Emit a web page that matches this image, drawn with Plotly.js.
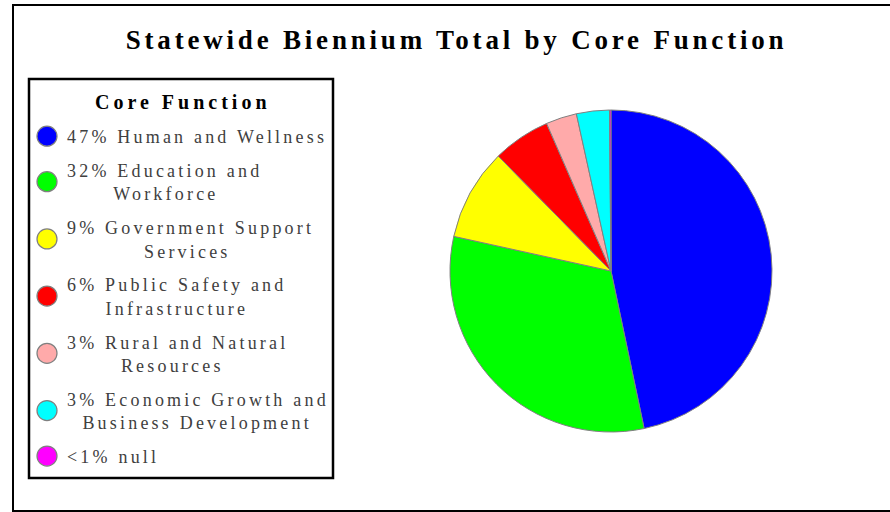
<!DOCTYPE html>
<html>
<head>
<meta charset="utf-8">
<script src="https://cdn.plot.ly/plotly-3.0.1.min.js"></script>
<style>
  html, body { margin: 0; padding: 0; background: #ffffff; }
  #chart { width: 890px; height: 512px; }
  .gtitle { letter-spacing: 3.8px; }
  .legendtext { letter-spacing: 3.2px; }
  .annotation-text { letter-spacing: 4px; }
  path.scatterpts { transform: translate(20px, 0px) scale(1.25); }
</style>
</head>
<body>
<div id="chart"></div>
<script>
const categories = [
  'Human and Wellness',
  'Education and Workforce',
  'Government Support Services',
  'Public Safety and Infrastructure',
  'Rural and Natural Resources',
  'Economic Growth and Business Development',
  'null'
];
const shares = [46.7, 31.75, 9.2, 5.8, 3.1, 3.3, 0.15];
const legendLabels = [
  '47% Human and Wellness',
  '32% Education and<br>\u00a0\u00a0\u00a0\u00a0\u00a0\u00a0Workforce',
  '9% Government Support<br>\u00a0\u00a0\u00a0\u00a0\u00a0\u00a0\u00a0\u00a0\u00a0\u00a0Services',
  '6% Public Safety and<br>\u00a0\u00a0\u00a0\u00a0\u00a0Infrastructure',
  '3% Rural and Natural<br>\u00a0\u00a0\u00a0\u00a0\u00a0\u00a0\u00a0Resources',
  '3% Economic Growth and<br>\u00a0\u00a0Business Development',
  '<1% null'
];
const legendTitle = 'Core Function';
const sliceColors = ['#0000ff', '#00ff00', '#ffff00', '#ff0000', '#ffaaaa', '#00ffff', '#ff00ff'];

const serif = '"Liberation Serif", "Times New Roman", serif';

const traces = [{
  type: 'pie',
  labels: categories,
  values: shares,
  sort: false,
  direction: 'clockwise',
  rotation: 0,
  textinfo: 'none',
  hoverinfo: 'label+percent',
  marker: { colors: sliceColors, line: { color: '#808080', width: 1 } },
  domain: { x: [450 / 890, 772 / 890], y: [80 / 512, 402 / 512] },
  showlegend: false
}];

categories.forEach(function (c, i) {
  traces.push({
    type: 'scatter',
    mode: 'markers',
    x: [null], y: [null],
    name: legendLabels[i],
    legendgroup: 'g' + i,
    hoverinfo: 'skip',
    marker: { symbol: 'circle', size: 16, color: sliceColors[i], line: { color: '#808080', width: 1 } },
    showlegend: true
  });
});

const layout = {
  width: 890,
  height: 512,
  margin: { l: 0, r: 0, t: 0, b: 0 },
  paper_bgcolor: '#ffffff',
  plot_bgcolor: '#ffffff',
  xaxis: { visible: false },
  yaxis: { visible: false },
  title: {
    text: '<b>Statewide Biennium Total by Core Function</b>',
    font: { family: serif, size: 27, color: '#000000' },
    x: 0.513, xanchor: 'center',
    y: 0.922, yanchor: 'middle'
  },
  legend: {
    x: 27 / 890, xanchor: 'left',
    y: (512 - 118) / 512, yanchor: 'top',
    bgcolor: 'rgba(0,0,0,0)',
    borderwidth: 0,
    font: { family: serif, size: 18, color: '#404040' },
    tracegroupgap: 7.4,
    itemclick: false,
    itemdoubleclick: false
  },
  annotations: [{
    text: '<b>' + legendTitle + '</b>',
    xref: 'paper', yref: 'paper',
    x: 183 / 890, y: (512 - 102) / 512,
    xanchor: 'center', yanchor: 'middle',
    showarrow: false,
    font: { family: serif, size: 20, color: '#000000' }
  }],
  shapes: [
    { type: 'rect', xref: 'paper', yref: 'paper', x0: 13 / 890, x1: 1.01, y0: 1 / 512, y1: (512 - 5) / 512,
      line: { color: '#000000', width: 2 }, fillcolor: 'rgba(0,0,0,0)', layer: 'below' },
    { type: 'rect', xref: 'paper', yref: 'paper', x0: 29 / 890, x1: 333 / 890, y0: (512 - 478) / 512, y1: (512 - 79) / 512,
      line: { color: '#000000', width: 2.5 }, fillcolor: 'rgba(0,0,0,0)', layer: 'below' }
  ]
};

Plotly.newPlot('chart', traces, layout, { displayModeBar: false, staticPlot: true });
</script>
</body>
</html>
